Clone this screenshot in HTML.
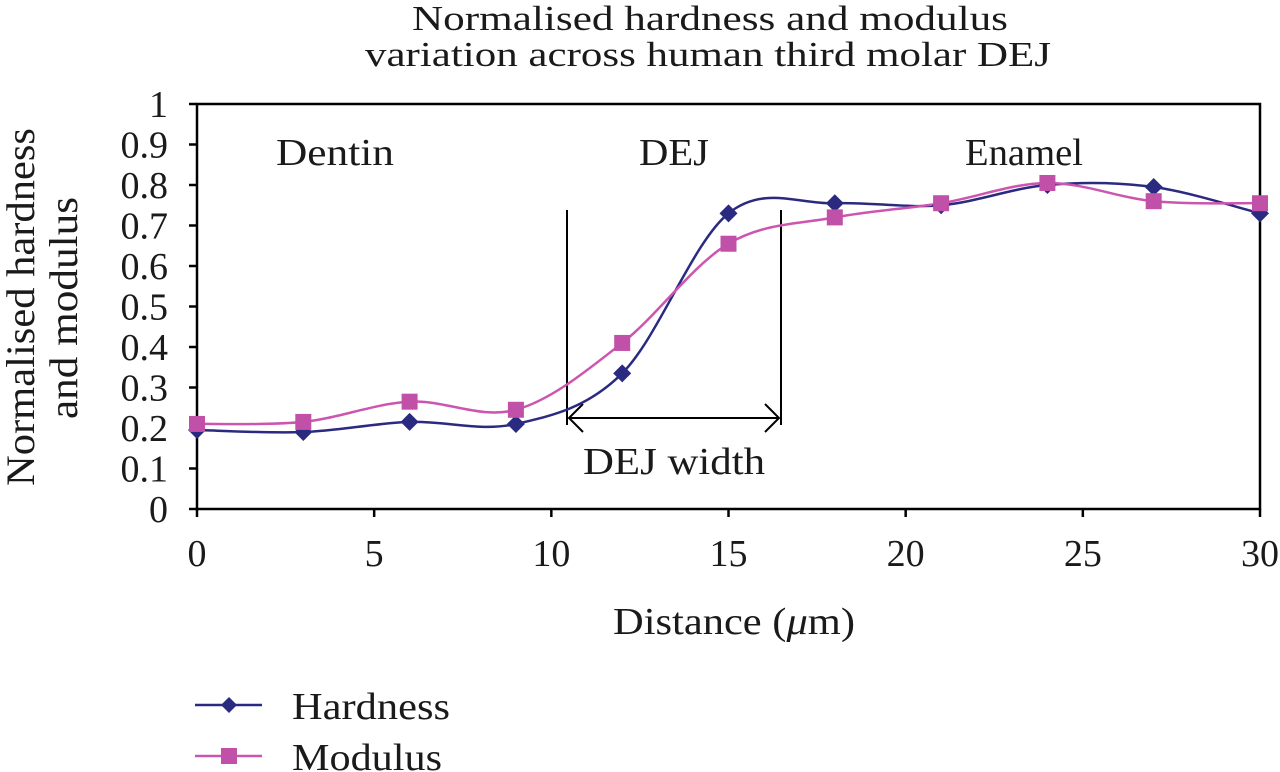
<!DOCTYPE html>
<html><head><meta charset="utf-8"><style>
html,body{margin:0;padding:0;background:#fff;}
svg{display:block;}
text{font-family:"Liberation Serif",serif;fill:#1a1a1a;}
</style></head><body>
<svg id="s" width="1280" height="772" viewBox="0 0 1280 772" xmlns="http://www.w3.org/2000/svg">
<text x="710" y="30" font-size="35" text-anchor="middle" textLength="596" lengthAdjust="spacingAndGlyphs">Normalised hardness and modulus</text>
<text x="708" y="66" font-size="35" text-anchor="middle" textLength="686" lengthAdjust="spacingAndGlyphs">variation across human third molar DEJ</text>
<g stroke="#000" stroke-width="2.5" fill="none">
<rect x="197" y="104" width="1063" height="405"/>
</g>
<g id="ticks" stroke="#000" stroke-width="2.5"></g>
<g id="labels" font-size="38"></g>
<text transform="translate(34,307) rotate(-90)" font-size="40" text-anchor="middle" textLength="358" lengthAdjust="spacingAndGlyphs">Normalised hardness</text>
<text transform="translate(77,308) rotate(-90)" font-size="40" text-anchor="middle" textLength="222" lengthAdjust="spacingAndGlyphs">and modulus</text>
<text x="734" y="634" font-size="38" text-anchor="middle" textLength="242" lengthAdjust="spacingAndGlyphs">Distance (<tspan font-style="italic">μ</tspan>m)</text>
<text x="335" y="165" font-size="38" text-anchor="middle" textLength="118" lengthAdjust="spacingAndGlyphs">Dentin</text>
<text x="674" y="165" font-size="38" text-anchor="middle" textLength="70" lengthAdjust="spacingAndGlyphs">DEJ</text>
<text x="1024" y="165" font-size="38" text-anchor="middle" textLength="118" lengthAdjust="spacingAndGlyphs">Enamel</text>
<g stroke="#000" stroke-width="2" fill="none">
<line x1="567" y1="210" x2="567" y2="425"/>
<line x1="781" y1="210" x2="781" y2="425"/>
<line x1="569" y1="418" x2="779" y2="418"/>
<polyline points="583,404 569,418 583,432"/>
<polyline points="765,404 779,418 765,432"/>
</g>
<text x="674" y="474" font-size="38" text-anchor="middle" textLength="182" lengthAdjust="spacingAndGlyphs">DEJ width</text>
<g id="series"></g>
<line x1="195" y1="705" x2="262" y2="705" stroke="#2a2a80" stroke-width="2.5"/>
<polygon points="229,697 237,705 229,713 221,705" fill="#2a2a80"/>
<text x="292" y="719" font-size="38" textLength="158" lengthAdjust="spacingAndGlyphs">Hardness</text>
<line x1="195" y1="756" x2="262" y2="756" stroke="#cc55b0" stroke-width="2.5"/>
<rect x="221" y="748" width="16" height="16" fill="#c050a8"/>
<text x="292" y="770" font-size="38" textLength="150" lengthAdjust="spacingAndGlyphs">Modulus</text>
</svg>
<script>
var NS="http://www.w3.org/2000/svg";
function el(t,a,p){var e=document.createElementNS(NS,t);for(var k in a)e.setAttribute(k,a[k]);if(p)p.appendChild(e);return e;}
var X=function(t){return 197+t*1063/30;},Y=function(v){return 509-405*v;};
var tk=document.getElementById('ticks'),lb=document.getElementById('labels');
for(var i=0;i<=10;i++){var y=Y(i/10);el('line',{x1:189,y1:y,x2:197,y2:y},tk);
var t=el('text',{x:168,y:y+13,'text-anchor':'end'},lb);t.textContent=i==0?'0':(i==10?'1':'0.'+i);}
for(var i=0;i<=6;i++){var x=X(i*5);el('line',{x1:x,y1:509,x2:x,y2:517},tk);
var t=el('text',{x:x,y:566,'text-anchor':'middle'},lb);t.textContent=i*5;}
var H=[0.195,0.19,0.215,0.21,0.335,0.73,0.755,0.75,0.80,0.795,0.73];
var M=[0.21,0.215,0.265,0.245,0.41,0.655,0.72,0.755,0.805,0.76,0.755];
function path(d){var p=d.map(function(v,i){return [X(i*3),Y(v)];});var s='M'+p[0][0]+','+p[0][1];
for(var i=0;i<p.length-1;i++){var p0=p[i-1]||p[i],p1=p[i],p2=p[i+1],p3=p[i+2]||p[i+1];
s+=' C'+(p1[0]+(p2[0]-p0[0])/6)+','+(p1[1]+(p2[1]-p0[1])/6)+' '+(p2[0]-(p3[0]-p1[0])/6)+','+(p2[1]-(p3[1]-p1[1])/6)+' '+p2[0]+','+p2[1];}
return [s,p];}
var g=document.getElementById('series');
var h=path(H),m=path(M);
el('path',{d:h[0],fill:'none',stroke:'#2a2a80','stroke-width':2.5},g);
el('path',{d:m[0],fill:'none',stroke:'#cc55b0','stroke-width':2.5},g);
h[1].forEach(function(p){el('polygon',{points:(p[0])+','+(p[1]-9)+' '+(p[0]+9)+','+p[1]+' '+p[0]+','+(p[1]+9)+' '+(p[0]-9)+','+p[1],fill:'#2a2a80'},g);});
m[1].forEach(function(p){el('rect',{x:p[0]-8,y:p[1]-8,width:16,height:16,fill:'#c050a8'},g);});
</script>
</body></html>
